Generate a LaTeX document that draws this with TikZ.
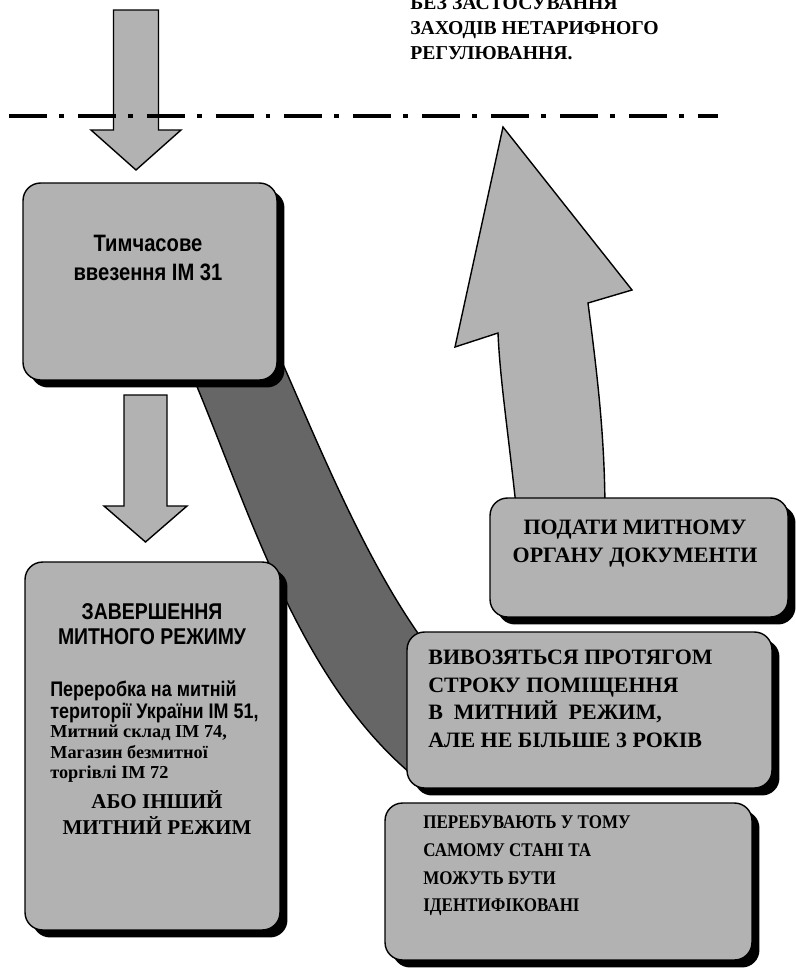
\documentclass[tikz,border=0pt]{standalone}
\usepackage{fontspec}
\setmainfont{Liberation Serif}
\setsansfont{Liberation Sans}
\newfontfamily\narrowsans[FakeStretch=0.85]{Liberation Sans}
\newfontfamily\narrowserif[FakeStretch=0.88]{Liberation Serif}
\usetikzlibrary{shadows, positioning}
\colorlet{boxgray}{black!30}
\colorlet{bandgray}{black!60}

\tikzset{
  box/.style={draw=black, line width=0.8pt, fill=boxgray, rounded corners=0.35cm,
    drop shadow={shadow xshift=0.15cm, shadow yshift=-0.15cm, fill=black, opacity=1}},
  blockarrow/.style={draw=black, line width=0.8pt, fill=boxgray},
  sanstxt/.style 2 args={font=\narrowsans\bfseries\fontsize{#1}{#2}\selectfont, inner sep=0pt},
  seriftxt/.style 2 args={font=\rmfamily\bfseries\fontsize{#1}{#2}\selectfont, inner sep=0pt},
  narrowtxt/.style 2 args={font=\narrowserif\bfseries\fontsize{#1}{#2}\selectfont, inner sep=0pt}
}

\begin{document}
\begin{tikzpicture}[x=0.02cm, y=-0.02cm]
  \useasboundingbox (0,0) rectangle (795,970);

  % incoming arrow and dash-dot border line
  \filldraw[blockarrow] (113.5,10) -- (158.5,10) -- (158.5,130) -- (181,130)
    -- (136,170) -- (91,130) -- (113.5,130) -- cycle;
  \draw[line width=2.8pt, dash pattern=on 21.6pt off 6.8pt on 2.8pt off 8pt] (9,116) -- (718,116);
  \node[seriftxt={11.2}{14.2}, align=left, anchor=west] (notariff) at (410,28)
    {БЕЗ ЗАСТОСУВАННЯ\\ЗАХОДІВ НЕТАРИФНОГО\\РЕГУЛЮВАННЯ.};

  % dark band from the first box to the export box
  \filldraw[bandgray, draw=black, line width=0.8pt]
    (190,370) .. controls (250,510) and (300,690) .. (425,785)
    -- (430,650) .. controls (370,570) and (325,460) .. (282,362) -- cycle;

  % big arrow going back over the line
  \filldraw[blockarrow]
    (517,515) .. controls (508,430) and (500,380) .. (498,333)
    -- (455,347) -- (503,127) -- (632,290) -- (588,303)
    .. controls (598,380) and (605,440) .. (605,515) -- cycle;

  % boxes
  \node[box, minimum width=5.08cm, minimum height=3.94cm] (entry)  at (150,281.5) {};
  \node[box, minimum width=5.10cm, minimum height=7.36cm] (finish) at (152.5,746) {};
  \node[box, minimum width=5.96cm, minimum height=2.38cm] (docs)   at (639,557.5) {};
  \node[box, minimum width=7.30cm, minimum height=3.12cm] (term)   at (589.5,710) {};
  \node[box, minimum width=7.34cm, minimum height=3.14cm] (same)   at (568.5,881.5) {};

  % arrow between the two left boxes
  \filldraw[blockarrow] (124,395) -- (167,395) -- (167,506) -- (187,506)
    -- (145.5,542) -- (104,506) -- (124,506) -- cycle;

  % texts
  \node[sanstxt={13.5}{17}, align=center] (entrytxt) at (148,258) {Тимчасове\\ввезення ІМ 31};
  \node[sanstxt={13}{14.5}, align=center] (finhead) at (152,624) {ЗАВЕРШЕННЯ\\МИТНОГО РЕЖИМУ};
  \node[sanstxt={12}{12.2}, align=left, anchor=west] (finsans) at (50,702)
    {Переробка на митній\\території України ІМ 51,};
  \node[seriftxt={10.4}{11.7}, align=left, anchor=west] (finserif) at (50,754)
    {Митний склад ІМ 74,\\Магазин безмитної\\торгівлі ІМ 72};
  \node[seriftxt={12}{14.8}, align=center] (finother) at (157,813) {АБО ІНШИЙ\\МИТНИЙ РЕЖИМ};
  \node[seriftxt={12.5}{16}, align=center] (docstxt) at (635,544) {ПОДАТИ МИТНОМУ\\ОРГАНУ ДОКУМЕНТИ};
  \node[seriftxt={12.5}{15.7}, align=left, anchor=west] (termtxt) at (428,699)
    {ВИВОЗЯТЬСЯ ПРОТЯГОМ\\СТРОКУ ПОМІЩЕННЯ\\В\ \ МИТНИЙ\ \ РЕЖИМ,\\АЛЕ НЕ БІЛЬШЕ 3 РОКІВ};
  \node[narrowtxt={11}{15.7}, align=left, anchor=west] (sametxt) at (423,866)
    {ПЕРЕБУВАЮТЬ У ТОМУ\\САМОМУ СТАНІ ТА\\МОЖУТЬ БУТИ\\ІДЕНТИФІКОВАНІ};
\end{tikzpicture}
\end{document}
